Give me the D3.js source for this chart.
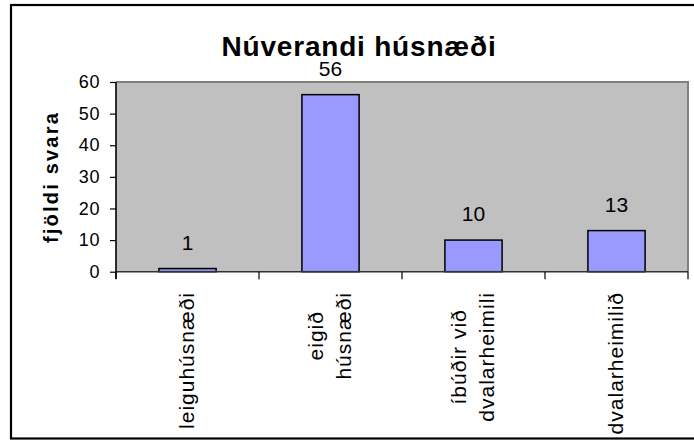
<!DOCTYPE html>
<html>
<head>
<meta charset="utf-8">
<script src="https://cdn.jsdelivr.net/npm/d3@7/dist/d3.min.js"></script>
<style>
  html, body { margin: 0; padding: 0; background: #fff; }
  svg { display: block; font-family: "Liberation Sans", Arial, sans-serif; }
</style>
</head>
<body>
<svg id="chart" width="694" height="440"></svg>
<script>
// ---- data ----
const categories = ["leiguhúsnæði", "eigið\nhúsnæði", "íbúðir við\ndvalarheimili", "dvalarheimilið"];
const values = [1, 56, 10, 13];
const yTicks = [0, 10, 20, 30, 40, 50, 60];
const title = "Núverandi húsnæði";
const yTitle = "fjöldi svara";

// ---- layout ----
const plot = { left: 116, right: 688, top: 82, bottom: 271.7 };

const svg = d3.select("#chart");

// outer frame
svg.append("rect")
  .attr("x", 11).attr("y", 5).attr("width", 700).attr("height", 433.5)
  .attr("fill", "#fff").attr("stroke", "#000").attr("stroke-width", 2.2);

const idx = categories.map((d, i) => i);
const x = d3.scaleBand().domain(idx).range([plot.left, plot.right])
  .paddingInner(0.6).paddingOuter(0.3);
const xCell = d3.scaleBand().domain(idx).range([plot.left, plot.right]).padding(0);
const y = d3.scaleLinear().domain([0, 60]).range([plot.bottom, plot.top]);

// plot background
svg.append("rect")
  .attr("x", plot.left).attr("y", plot.top)
  .attr("width", plot.right - plot.left).attr("height", plot.bottom - plot.top)
  .attr("fill", "#C0C0C0");
// top & right border
svg.append("path")
  .attr("d", `M${plot.left},${plot.top}H${plot.right}V${plot.bottom}`)
  .attr("fill", "none").attr("stroke", "#808080").attr("stroke-width", 2);

// bars
svg.append("g").selectAll("rect").data(values).join("rect")
  .attr("x", (d, i) => x(i))
  .attr("y", d => y(d))
  .attr("width", x.bandwidth())
  .attr("height", d => y(0) - y(d))
  .attr("fill", "#9999FF")
  .attr("stroke", "#000").attr("stroke-width", 1.5);

// x axis line and ticks
const xa = svg.append("g");
xa.append("line")
  .attr("x1", plot.left).attr("x2", plot.right)
  .attr("y1", y(0)).attr("y2", y(0))
  .attr("stroke", "#333").attr("stroke-width", 1.6);
const bounds = idx.map(i => xCell(i)).concat([xCell(idx.length - 1) + xCell.bandwidth()]);
xa.selectAll("line.t").data(bounds).join("line").attr("class", "t")
  .attr("x1", d => d).attr("x2", d => d)
  .attr("y1", y(0)).attr("y2", y(0) + 7.5)
  .attr("stroke", "#000").attr("stroke-width", 1.2);

// y axis
const ya = svg.append("g").attr("transform", `translate(${plot.left},0)`)
  .call(d3.axisLeft(y).tickValues(yTicks).tickSize(6).tickPadding(10).tickFormat(d3.format("d")));
ya.select(".domain").attr("stroke", "#000").attr("stroke-width", 1.6)
  .attr("d", `M0,${plot.top}V${y(0) + 7}`);
ya.selectAll(".tick line").attr("stroke", "#000").attr("stroke-width", 1.2);
ya.selectAll(".tick text").attr("font-size", 18).attr("fill", "#000")
  .attr("font-family", "Liberation Sans, Arial, sans-serif").attr("letter-spacing", 0.6);

// value labels
svg.append("g").selectAll("text").data(values).join("text")
  .attr("x", (d, i) => x(i) + x.bandwidth() / 2)
  .attr("y", d => y(d) - 19)
  .attr("text-anchor", "middle")
  .attr("font-size", 21)
  .attr("fill", "#000")
  .text(d => d);

// category labels (rotated)
const fs = 21, lineH = 28, labelTop = 292;
categories.forEach((c, i) => {
  const lines = c.split("\n");
  const cx = xCell(i) + xCell.bandwidth() / 2;
  const g = svg.append("g");
  const texts = lines.map((ln, j) => g.append("text")
    .attr("font-size", fs).attr("letter-spacing", 1.0).attr("fill", "#000")
    .attr("text-anchor", "middle")
    .text(ln));
  const maxLen = d3.max(texts, t => t.node().getComputedTextLength());
  const cy = labelTop + maxLen / 2;
  texts.forEach((t, j) => {
    const lx = cx + (j - (lines.length - 1) / 2) * lineH + fs * 0.3;
    t.attr("transform", `translate(${lx},${cy}) rotate(-90)`);
  });
});

// y-axis title
svg.append("text")
  .attr("transform", `translate(${52 + 19 * 0.3},177) rotate(-90)`)
  .attr("text-anchor", "middle")
  .attr("font-size", 20).attr("font-weight", "bold").attr("letter-spacing", 2.2)
  .attr("fill", "#000")
  .text(yTitle);

// chart title
svg.append("text")
  .attr("x", 359).attr("y", 56)
  .attr("text-anchor", "middle")
  .attr("font-size", 28).attr("font-weight", "bold").attr("letter-spacing", 0.8)
  .attr("fill", "#000")
  .text(title);
</script>
</body>
</html>
